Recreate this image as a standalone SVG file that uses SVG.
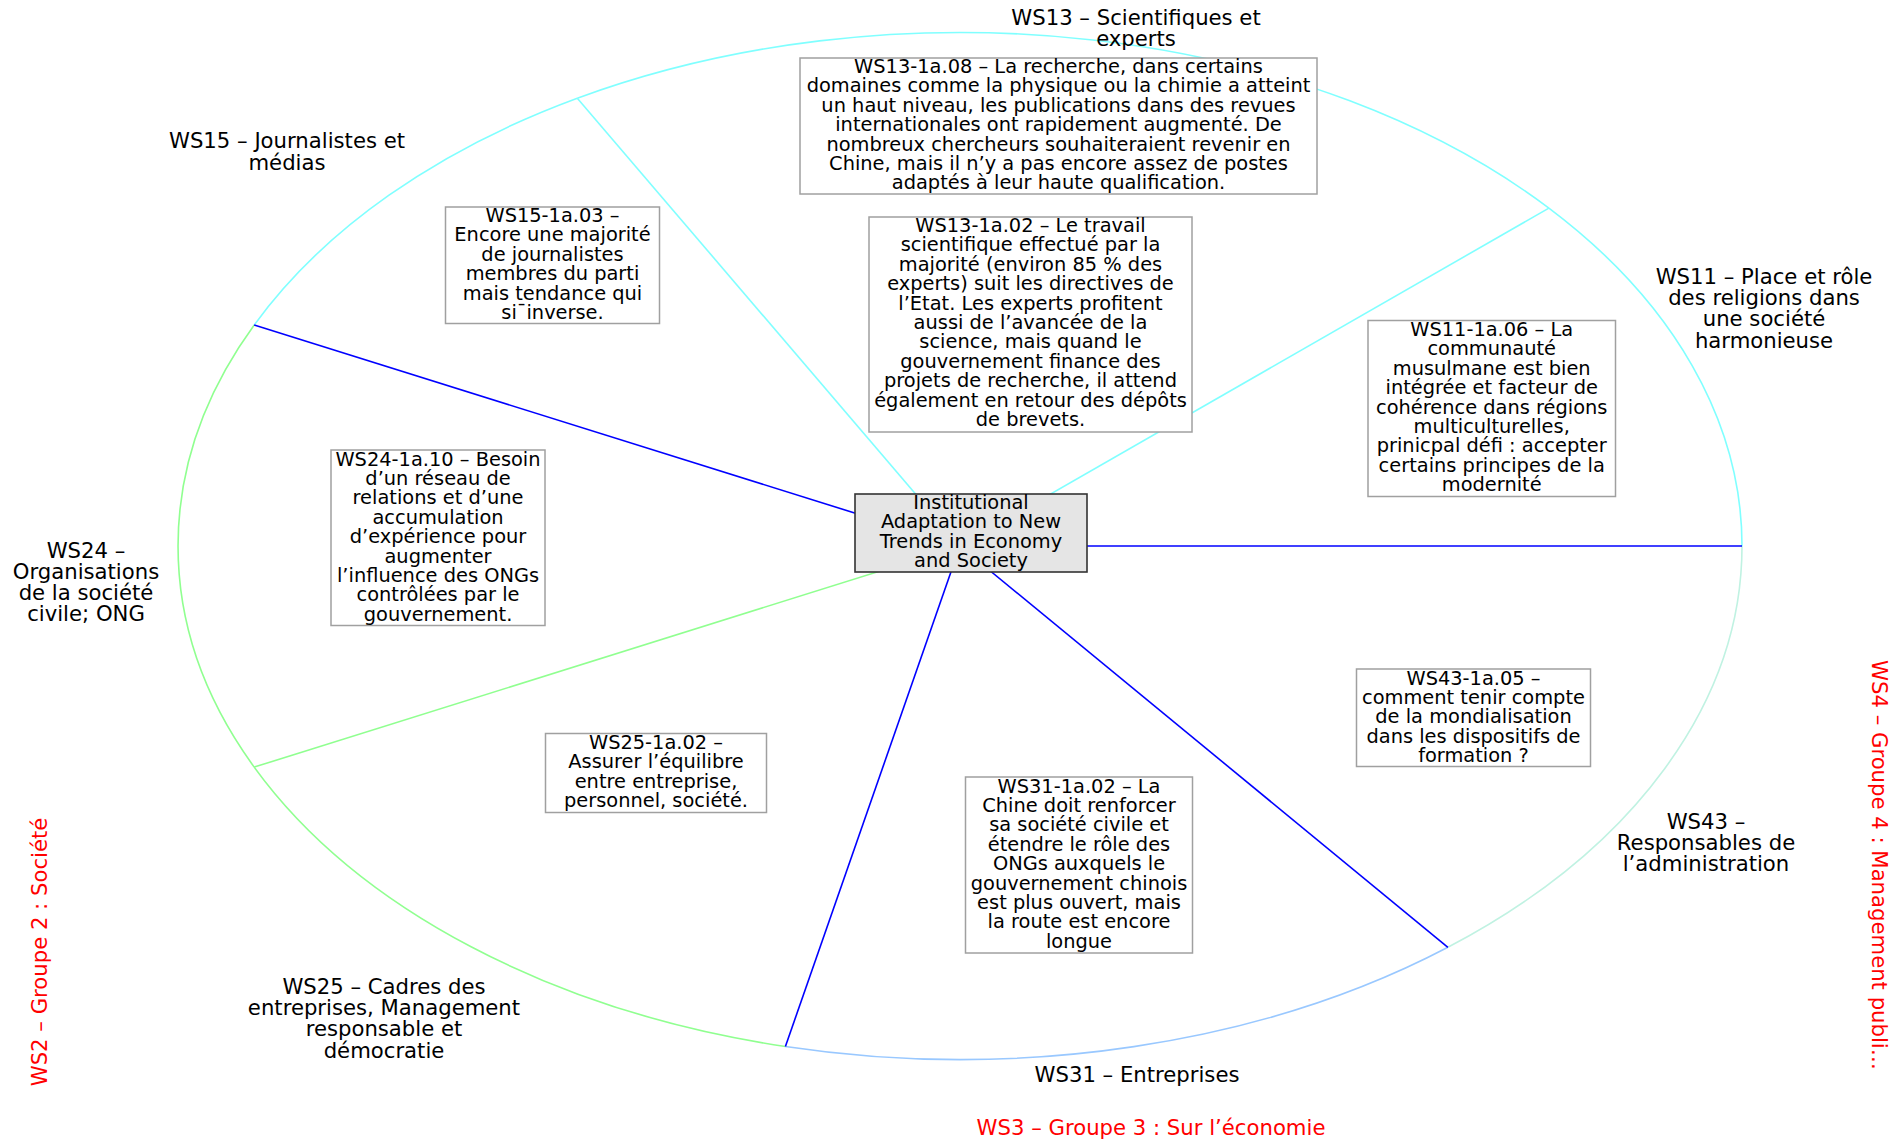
<svg xmlns="http://www.w3.org/2000/svg" width="1897" height="1141" viewBox="0 0 1897 1141">
<style>
  text { font-family: "DejaVu Sans", "Liberation Sans", sans-serif; fill: #000; text-anchor: middle; }
  .box { fill: #fff; stroke: #a0a0a0; stroke-width: 1.5; }
  .bt { font-size: 19.4px; }
  .title { font-size: 21.2px; }
  .grp { font-size: 21.2px; fill: #ff0000; }
  .core { fill: #e5e5e5; stroke: #333; stroke-width: 1.6; }
  .arc { fill: none; stroke-width: 1.6; }
  .spoke { stroke-width: 1.6; fill: none; }
  .blue { stroke: #0000ff; }
  .cyan { stroke: #80ffff; }
  .green { stroke: #90ff90; }
  .lblue { stroke: #99c8ff; }
  .mint { stroke: #c0f2e2; }
</style>
<rect width="1897" height="1141" fill="#fff"/>
<g id="sectors">
  <path class="arc cyan" d="M1548.9 208.1 A782 513.5 0 0 1 1742 546"/>
  <path class="arc mint" d="M1742 546 A782 513.5 0 0 1 1447.9 947.3"/>
  <path class="arc lblue" d="M1447.9 947.3 A782 513.5 0 0 1 785.4 1046.5"/>
  <path class="arc green" d="M785.4 1046.5 A782 513.5 0 0 1 254.2 767.1"/>
  <path class="arc green" d="M254.2 767.1 A782 513.5 0 0 1 254.2 325"/>
  <path class="arc cyan" d="M254.2 325 A782 513.5 0 0 1 577.3 98.2"/>
  <path class="arc cyan" d="M577.3 98.2 A782 513.5 0 0 1 1548.9 208.1"/>
</g>
<g id="connectors">
  <line class="spoke blue" x1="960" y1="546" x2="254.2" y2="325"/>
  <line class="spoke cyan" x1="960" y1="546" x2="577.3" y2="98.2"/>
  <line class="spoke cyan" x1="960" y1="546" x2="1548.9" y2="208.1"/>
  <line class="spoke blue" x1="960" y1="546" x2="1742" y2="546"/>
  <line class="spoke blue" x1="960" y1="546" x2="1447.9" y2="947.3"/>
  <line class="spoke blue" x1="960" y1="546" x2="785.4" y2="1046.5"/>
  <line class="spoke green" x1="960" y1="546" x2="254.2" y2="767.1"/>
</g>
<g id="labels">
  <text id="ws13-label" class="title"><tspan x="1136" y="24.5">WS13 – Scientifiques et</tspan><tspan x="1136" y="45.5">experts</tspan></text>
  <text id="ws15-label" class="title"><tspan x="287" y="148">WS15 – Journalistes et</tspan><tspan x="287" y="169.5">médias</tspan></text>
  <text id="ws11-label" class="title"><tspan x="1764" y="284">WS11 – Place et rôle</tspan><tspan x="1764" y="305">des religions dans</tspan><tspan x="1764" y="326">une société</tspan><tspan x="1764" y="347.5">harmonieuse</tspan></text>
  <text id="ws24-label" class="title"><tspan x="86" y="557.5">WS24 –</tspan><tspan x="86" y="578.5">Organisations</tspan><tspan x="86" y="599.5">de la société</tspan><tspan x="86" y="621">civile; ONG</tspan></text>
  <text id="ws25-label" class="title"><tspan x="384" y="994">WS25 – Cadres des</tspan><tspan x="384" y="1015">entreprises, Management</tspan><tspan x="384" y="1036">responsable et</tspan><tspan x="384" y="1057.5">démocratie</tspan></text>
  <text id="ws31-label" class="title"><tspan x="1137" y="1082">WS31 – Entreprises</tspan></text>
  <text id="ws43-label" class="title"><tspan x="1706" y="828.5">WS43 –</tspan><tspan x="1706" y="849.5">Responsables de</tspan><tspan x="1706" y="870.5">l’administration</tspan></text>
  <text id="ws3-group" class="grp" x="1151" y="1135">WS3 – Groupe 3 : Sur l’économie</text>
  <text id="ws2-group" class="grp" transform="translate(47,952) rotate(-90)" x="0" y="0">WS2 – Groupe 2 : Société</text>
  <text id="ws4-group" class="grp" transform="translate(1872,865) rotate(90)" x="0" y="0">WS4 – Groupe 4 : Management publi…</text>
</g>
<g id="ws13-1a08">
  <rect class="box" x="800" y="58" width="517" height="136"/>
  <text class="bt"><tspan x="1058.5" y="73">WS13-1a.08 – La recherche, dans certains</tspan><tspan x="1058.5" y="92.4">domaines comme la physique ou la chimie a atteint</tspan><tspan x="1058.5" y="111.8">un haut niveau, les publications dans des revues</tspan><tspan x="1058.5" y="131.2">internationales ont rapidement augmenté. De</tspan><tspan x="1058.5" y="150.6">nombreux chercheurs souhaiteraient revenir en</tspan><tspan x="1058.5" y="170">Chine, mais il n’y a pas encore assez de postes</tspan><tspan x="1058.5" y="189.4">adaptés à leur haute qualification.</tspan></text>
</g>
<g id="ws13-1a02">
  <rect class="box" x="869" y="217" width="323" height="215"/>
  <text class="bt"><tspan x="1030.5" y="232">WS13-1a.02 – Le travail</tspan><tspan x="1030.5" y="251.4">scientifique effectué par la</tspan><tspan x="1030.5" y="270.8">majorité (environ 85 % des</tspan><tspan x="1030.5" y="290.2">experts) suit les directives de</tspan><tspan x="1030.5" y="309.6">l’Etat. Les experts profitent</tspan><tspan x="1030.5" y="329">aussi de l’avancée de la</tspan><tspan x="1030.5" y="348.4">science, mais quand le</tspan><tspan x="1030.5" y="367.8">gouvernement finance des</tspan><tspan x="1030.5" y="387.2">projets de recherche, il attend</tspan><tspan x="1030.5" y="406.6">également en retour des dépôts</tspan><tspan x="1030.5" y="426">de brevets.</tspan></text>
</g>
<g id="ws15-1a03">
  <rect class="box" x="445.5" y="207" width="214" height="116.5"/>
  <text class="bt"><tspan x="552.5" y="222">WS15-1a.03 –</tspan><tspan x="552.5" y="241.4">Encore une majorité</tspan><tspan x="552.5" y="260.8">de journalistes</tspan><tspan x="552.5" y="280.2">membres du parti</tspan><tspan x="552.5" y="299.6">mais tendance qui</tspan><tspan x="552.5" y="319">si¯inverse.</tspan></text>
</g>
<g id="ws11-1a06">
  <rect class="box" x="1368" y="320.5" width="247.5" height="176"/>
  <text class="bt"><tspan x="1491.7" y="336">WS11-1a.06 – La</tspan><tspan x="1491.7" y="355.4">communauté</tspan><tspan x="1491.7" y="374.8">musulmane est bien</tspan><tspan x="1491.7" y="394.2">intégrée et facteur de</tspan><tspan x="1491.7" y="413.6">cohérence dans régions</tspan><tspan x="1491.7" y="433">multiculturelles,</tspan><tspan x="1491.7" y="452.4">prinicpal défi : accepter</tspan><tspan x="1491.7" y="471.8">certains principes de la</tspan><tspan x="1491.7" y="491.2">modernité</tspan></text>
</g>
<g id="ws24-1a10">
  <rect class="box" x="331" y="450" width="214" height="175.5"/>
  <text class="bt"><tspan x="438" y="465.5">WS24-1a.10 – Besoin</tspan><tspan x="438" y="484.9">d’un réseau de</tspan><tspan x="438" y="504.3">relations et d’une</tspan><tspan x="438" y="523.7">accumulation</tspan><tspan x="438" y="543.1">d’expérience pour</tspan><tspan x="438" y="562.5">augmenter</tspan><tspan x="438" y="581.9">l’influence des ONGs</tspan><tspan x="438" y="601.3">contrôlées par le</tspan><tspan x="438" y="620.7">gouvernement.</tspan></text>
</g>
<g id="ws25-1a02">
  <rect class="box" x="545.5" y="733.5" width="221" height="79"/>
  <text class="bt"><tspan x="656" y="749">WS25-1a.02 –</tspan><tspan x="656" y="768.4">Assurer l’équilibre</tspan><tspan x="656" y="787.8">entre entreprise,</tspan><tspan x="656" y="807.2">personnel, société.</tspan></text>
</g>
<g id="ws43-1a05">
  <rect class="box" x="1356.5" y="669" width="234" height="97.5"/>
  <text class="bt"><tspan x="1473.5" y="684.5">WS43-1a.05 –</tspan><tspan x="1473.5" y="703.9">comment tenir compte</tspan><tspan x="1473.5" y="723.3">de la mondialisation</tspan><tspan x="1473.5" y="742.7">dans les dispositifs de</tspan><tspan x="1473.5" y="762.1">formation ?</tspan></text>
</g>
<g id="ws31-1a02">
  <rect class="box" x="965.5" y="777" width="227" height="176"/>
  <text class="bt"><tspan x="1079" y="792.5">WS31-1a.02 – La</tspan><tspan x="1079" y="811.9">Chine doit renforcer</tspan><tspan x="1079" y="831.3">sa société civile et</tspan><tspan x="1079" y="850.7">étendre le rôle des</tspan><tspan x="1079" y="870.1">ONGs auxquels le</tspan><tspan x="1079" y="889.5">gouvernement chinois</tspan><tspan x="1079" y="908.9">est plus ouvert, mais</tspan><tspan x="1079" y="928.3">la route est encore</tspan><tspan x="1079" y="947.7">longue</tspan></text>
</g>
<g id="core">
  <rect class="core" x="855" y="494" width="232" height="78"/>
  <text class="bt"><tspan x="971" y="509">Institutional</tspan><tspan x="971" y="528.3">Adaptation to New</tspan><tspan x="971" y="547.6">Trends in Economy</tspan><tspan x="971" y="567">and Society</tspan></text>
</g>
</svg>
